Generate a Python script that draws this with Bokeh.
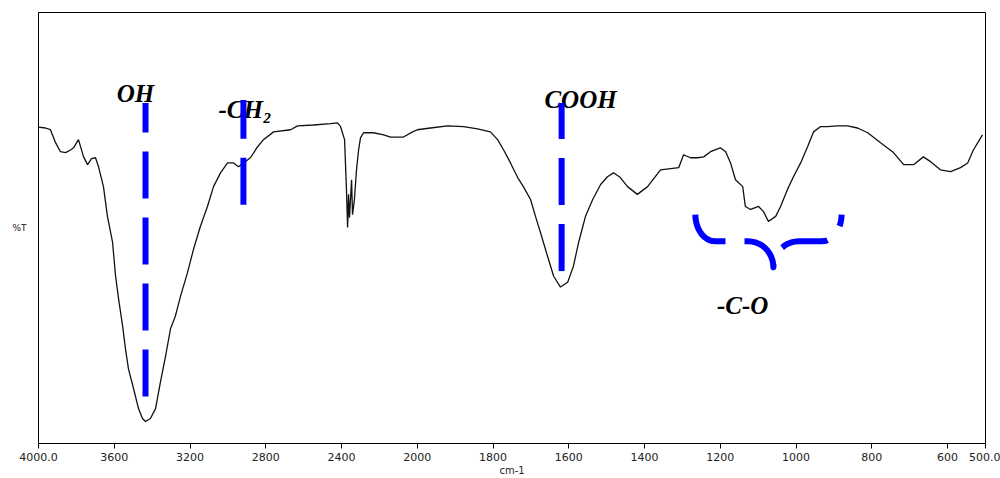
import numpy as np
from bokeh.plotting import figure
from bokeh.models import Range1d, FixedTicker, Label
from bokeh.embed import file_html
from bokeh.resources import INLINE

# ---- spectrum ----
WAVENUMBER = [4000, 3963, 3937, 3910, 3884, 3857, 3831, 3815, 3789, 3762, 3741, 3720, 3699, 3683,
              3657, 3636, 3609, 3593, 3577, 3556, 3541, 3525, 3498, 3472, 3451, 3435, 3409, 3382,
              3356, 3329, 3303, 3277, 3250, 3213, 3182, 3145, 3108, 3076, 3039, 3002, 2970, 2944,
              2917, 2881, 2844, 2812, 2759, 2669, 2632, 2548, 2458, 2421, 2405, 2384, 2374, 2368,
              2363, 2358, 2347, 2342, 2332, 2321, 2310, 2300, 2284, 2231, 2178, 2141, 2073, 2025,
              2000, 1965, 1920, 1878, 1841, 1807, 1788, 1772, 1754, 1735, 1720, 1701, 1688, 1675,
              1656, 1640, 1622, 1603, 1588, 1574, 1556, 1537, 1516, 1498, 1482, 1464, 1445, 1419,
              1392, 1358, 1310, 1297, 1279, 1260, 1244, 1226, 1200, 1186, 1173, 1160, 1141, 1134,
              1120, 1099, 1086, 1073, 1054, 1041, 1023, 1007, 988, 970, 954, 936, 917, 891, 864,
              838, 811, 777, 743, 716, 690, 664, 645, 619, 592, 566, 547, 532, 508]
TRANSMITTANCE = [73.4, 73.2, 72.8, 69.8, 67.7, 67.5, 68.1, 68.6, 70.5, 66.5, 64.7, 66.1, 66.3, 64.2,
                 59.6, 52.7, 46.7, 38.8, 33.5, 27.3, 22.0, 17.3, 12.7, 8.1, 5.8, 5.1, 5.8, 8.1,
                 14.3, 20.3, 26.6, 29.6, 34.2, 39.7, 45.0, 50.4, 55.0, 59.6, 62.8, 65.1, 65.1, 64.2,
                 65.1, 66.3, 68.8, 70.5, 72.3, 72.8, 73.7, 73.9, 74.2, 74.4, 73.5, 70.5, 58.9, 50.1,
                 57.8, 52.4, 61.2, 53.1, 56.6, 63.5, 68.1, 70.9, 72.1, 72.1, 71.6, 71.1, 71.1, 72.3,
                 72.8, 73.2, 73.7, 73.5, 73.0, 72.3, 70.5, 68.1, 65.1, 61.7, 59.6, 56.6, 52.7, 49.0,
                 43.4, 38.8, 36.3, 37.4, 41.1, 46.7, 52.7, 56.6, 60.1, 61.9, 62.8, 61.7, 59.6, 57.8,
                 59.6, 63.5, 64.0, 67.0, 66.3, 66.3, 66.5, 67.7, 68.6, 67.7, 65.1, 61.2, 59.6, 55.0,
                 54.3, 55.0, 53.8, 51.5, 52.7, 55.0, 58.9, 61.9, 65.1, 68.8, 72.3, 73.5, 73.5, 73.7,
                 73.7, 73.2, 72.1, 69.8, 67.5, 64.7, 64.7, 66.5, 65.4, 63.5, 63.1, 64.0, 65.1, 68.1,
                 71.6]

TICK_WAVENUMBERS = [4000, 3600, 3200, 2800, 2400, 2000, 1800, 1600, 1400, 1200, 1000, 800, 600, 500]
TICK_LABELS = ["4000.0", "3600", "3200", "2800", "2400", "2000", "1800", "1600", "1400",
               "1200", "1000", "800", "600", "500.0"]
X_TITLE = "cm-1"
Y_TITLE = "%T"

# band markers: name, wavenumber, %T extent of the dashed marker, label anchor
BAND_NAMES = ["OH", "-CH\u2082", "COOH"]
BAND_WAVENUMBERS = [3435, 2918, 1619]
BAND_T_LOW = [10.9, 55.4, 40.0]
BAND_T_HIGH = [79.0, 79.7, 79.0]
LABEL_WAVENUMBERS = [3488, 3050, 1569]
LABEL_T = [81.1, 77.6, 79.9]
LABEL_ALIGN = ["center", "left", "center"]

# C-O brace: left end, tip, right end wavenumbers and %T levels
CO_NAME = "-C-O"
CO_BRACE_WAVENUMBERS = [1266, 1060, 880]
CO_BRACE_T = [53.1, 46.9, 40.9]      # ends, bar, tip
CO_LABEL = (1141, 32.1)

BLUE = "#0000FF"
FRAME_W, FRAME_H = 947, 433


def to_u(w):
    """Expanded abscissa: scale doubles below 2000 cm-1 as on the instrument chart."""
    w = np.asarray(w, dtype=float)
    return np.where(w >= 2000, 4000 - w, 2000 + 2 * (2000 - w))


p = figure(width=1000, height=478, x_range=Range1d(0, 5000), y_range=Range1d(0, 100),
           output_backend="svg", toolbar_location=None,
           min_border_left=38, min_border_right=15, min_border_top=12, min_border_bottom=33)
p.grid.visible = False
p.outline_line_color = "black"
p.outline_line_width = 1
p.background_fill_color = "white"
p.border_fill_color = "white"

# x axis
ax = p.xaxis[0]
ax.ticker = FixedTicker(ticks=[int(v) for v in to_u(TICK_WAVENUMBERS)], minor_ticks=[])
ax.major_label_overrides = {int(u): s for u, s in zip(to_u(TICK_WAVENUMBERS), TICK_LABELS)}
ax.major_tick_in = 0
ax.major_tick_out = 5
ax.minor_tick_in = 0
ax.minor_tick_out = 0
ax.major_label_standoff = 4
ax.major_label_text_font = "DejaVu Sans"
ax.major_label_text_font_size = "11px"
ax.major_label_text_color = "#222222"
ax.axis_line_color = "black"
ax.major_tick_line_color = "black"
ax.axis_label = X_TITLE
ax.axis_label_standoff = 1
ax.axis_label_text_font = "DejaVu Sans"
ax.axis_label_text_font_size = "10px"
ax.axis_label_text_font_style = "normal"
ax.axis_label_text_color = "#222222"

# y axis: line and title only
ay = p.yaxis[0]
ay.ticker = FixedTicker(ticks=[], minor_ticks=[])
ay.major_tick_in = 0
ay.major_tick_out = 0
ay.minor_tick_in = 0
ay.minor_tick_out = 0
ay.major_label_text_font_size = "1px"
ay.major_label_standoff = 0
ay.axis_line_color = "black"
ay.axis_label = Y_TITLE
ay.axis_label_orientation = "horizontal"
ay.axis_label_standoff = 12
ay.axis_label_text_font = "DejaVu Sans"
ay.axis_label_text_font_size = "9px"
ay.axis_label_text_font_style = "normal"
ay.axis_label_text_color = "#222222"

# spectrum
p.line(to_u(WAVENUMBER), TRANSMITTANCE, line_color="#111111", line_width=1.3)

# dashed band markers (drawn bottom -> top so the dash pattern starts at the bottom)
for w, lo, hi in zip(BAND_WAVENUMBERS, BAND_T_LOW, BAND_T_HIGH):
    u = float(to_u(w))
    p.line([u, u], [lo, hi], line_color=BLUE, line_width=6, line_dash="47 19",
           line_cap="butt", level="overlay")

for name, w, t, al in zip(BAND_NAMES, LABEL_WAVENUMBERS, LABEL_T, LABEL_ALIGN):
    p.add_layout(Label(x=float(to_u(w)), y=t, text=name, text_font="Liberation Serif",
                       text_font_style="bold italic", text_font_size="25px",
                       text_align=al, text_baseline="alphabetic", text_color="black"))

# C-O brace
u_per_px = 5000 / FRAME_W
uL, uT, uR = [float(v) for v in to_u(CO_BRACE_WAVENUMBERS)]
t_end, t_bar, t_tip = CO_BRACE_T
rxe, rxm = 20 * u_per_px, 25 * u_per_px
rye, rym = t_end - t_bar, t_bar - t_tip
bx, by = [], []
th = np.linspace(np.pi, 1.5 * np.pi, 12)
bx += list(uL + rxe + rxe * np.cos(th)); by += list(t_end + rye * np.sin(th))
th = np.linspace(0.5 * np.pi, 0, 12)
bx += list(uT - rxm + rxm * np.cos(th)); by += list(t_tip + rym * np.sin(th))
th = np.linspace(np.pi, 0.5 * np.pi, 12)
bx += list(uT + rxm + rxm * np.cos(th)); by += list(t_tip + rym * np.sin(th))
th = np.linspace(1.5 * np.pi, 2 * np.pi, 12)
bx += list(uR - rxe + rxe * np.cos(th)); by += list(t_end + rye * np.sin(th))
p.line(bx, by, line_color=BLUE, line_width=6, line_dash="47 19", line_cap="butt",
       line_join="round", level="overlay")

p.add_layout(Label(x=float(to_u(CO_LABEL[0])), y=CO_LABEL[1], text=CO_NAME,
                   text_font="Liberation Serif", text_font_style="bold italic",
                   text_font_size="25px", text_align="center", text_baseline="alphabetic",
                   text_color="black"))

open("out.html", "w").write(file_html(p, INLINE))
